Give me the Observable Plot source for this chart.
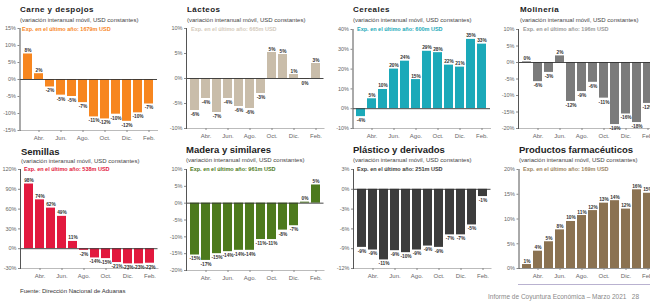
<!DOCTYPE html>
<html><head><meta charset="utf-8">
<script src="https://cdn.jsdelivr.net/npm/d3@7"></script>
<script src="https://cdn.jsdelivr.net/npm/@observablehq/plot@0.6"></script>
<style>
body{margin:0;background:#fff;overflow:hidden;}
#root{position:relative;width:650px;height:303px;overflow:hidden;background:#fff;font-family:"Liberation Sans",Arial,sans-serif;}
.t{position:absolute;white-space:nowrap;line-height:1;}
.title1{font-weight:bold;font-size:8px;letter-spacing:0.45px;color:#222;}
.title2{font-weight:bold;font-size:9.5px;color:#222;}
.sub{font-size:6px;color:#444;}
.exp{font-weight:bold;font-size:5.5px;}
svg.plot-panel{position:absolute;}
</style></head><body><div id="root"></div>
<script>
// ---- data ----
const months = ["Mar.","Abr.","May.","Jun.","Jul.","Ago.","Sep.","Oct.","Nov.","Dic.","Ene.","Feb."];
const tickMonths = ["Abr.","Jun.","Ago.","Oct.","Dic.","Feb."];
const subtitle = "(variación interanual móvil, USD constantes)";

const titles = ["Carne y despojos","Lácteos","Cereales","Molinería","Semillas","Madera y similares","Plástico y derivados","Productos farmacéuticos"];
const expLabels = ["Exp. en el último año: 1679m USD","Exp. en el último año: 665m USD","Exp. en el último año: 600m USD","Exp. en el último año: 196m USD","Exp. en el último año: 538m USD","Exp. en el último año: 961m USD","Exp. en el último año: 251m USD","Exp. en el último año: 169m USD"];
const colors = ["#f7861f","#c9bdaa","#1ba9b9","#7b7b7b","#e2193e","#4d7a1d","#3c3c3c","#8b7251"];
const expColors = ["#f7861f","#d3c9bb","#1ba9b9","#9a9a9a","#e2193e","#4d7a1d","#3c3c3c","#9b8462"];

const carne     = [7.5, 1.7, -2.2, -4.6, -5.0, -6.8, -11.0, -11.6, -10.2, -12.3, -9.8, -7.2];
const lacteos   = [-6.4, -4.0, -6.8, -4.0, -5.6, -6.0, -3.0, 5.2, 4.8, 0.8, -0.2, 3.0];
const cereales  = [-4.0, 5.0, 9.7, 20.0, 24.0, 14.7, 29.0, 28.3, 22.0, 21.0, 35.0, 32.6];
const molineria = [0.2, -5.8, -3.0, 2.0, -11.8, -8.8, -6.0, -10.8, -18.8, -15.6, -18.2, -12.4];
const semillas  = [98.0, 74.0, 61.5, 49.0, 11.0, -2.5, -14.0, -15.0, -21.0, -23.0, -23.0, -22.0];
const madera    = [-15.4, -17.0, -15.0, -14.4, -14.0, -14.0, -10.8, -10.8, -8.0, -6.7, 0.3, 5.4];
const plastico  = [-8.8, -9.2, -10.7, -9.3, -9.6, -9.2, -8.6, -8.8, -6.9, -6.9, -5.4, -1.1];
const farma     = [0.8, 3.5, 5.4, 7.8, 9.5, 10.7, 11.7, 13.2, 13.7, 12.0, 15.9, 15.2];

const yDomains = [[-15,15],[-10,10],[-10,40],[-20,10],[-30,120],[-20,10],[-12,3],[0,20]];
const yTicks = [[-15,-10,-5,0,5,10,15],[-10,-5,0,5,10],[-10,0,10,20,30,40],[-20,-15,-10,-5,0,5,10],
                [-30,0,30,60,90,120],[-20,-15,-10,-5,0,5,10],[-12,-9,-6,-3,0,3],[0,5,10,15,20]];
const series = [carne, lacteos, cereales, molineria, semillas, madera, plastico, farma];

// ---- layout ----
const boxes = [
  {left:0,   top:0,   w:162, h:145, x0:19.5, x1:157,   y0:130, y1:28,  tx:20,  ty:6,   sy:17, ey:27, ex:22,  row:1},
  {left:162, top:0,   w:163, h:145, x0:24,   x1:161.5, y0:128, y1:28,  tx:187, ty:6,   sy:17, ey:27, ex:191, row:1},
  {left:325, top:0,   w:165, h:145, x0:27.5, x1:165,   y0:128, y1:29,  tx:353, ty:6,   sy:17, ey:27, ex:357, row:1},
  {left:490, top:0,   w:170, h:145, x0:28,   x1:165.5, y0:128, y1:29,  tx:520, ty:6,   sy:17, ey:27, ex:523, row:1},
  {left:0,   top:140, w:162, h:145, x0:20,   x1:157.5, y0:128, y1:29,  tx:21,  ty:147, sy:158, ey:167, ex:24, row:2},
  {left:162, top:140, w:163, h:145, x0:24,   x1:161.5, y0:130, y1:29,  tx:186, ty:145, sy:157, ey:167, ex:190, row:2},
  {left:325, top:140, w:165, h:145, x0:28,   x1:165.5, y0:128, y1:29,  tx:353, ty:145, sy:157, ey:167, ex:357, row:2},
  {left:490, top:140, w:170, h:145, x0:28.5, x1:166,   y0:128, y1:29,  tx:519, ty:145, sy:157, ey:167, ex:523, row:2}
];

const root = document.getElementById("root");
function addText(cls, txt, x, y, color){
  const d = document.createElement("div");
  d.className = "t " + cls;
  d.textContent = txt;
  d.style.left = x + "px"; d.style.top = y + "px";
  if (color) d.style.color = color;
  root.appendChild(d);
}

const fmt = v => Math.round(v) + "%";

series.forEach((vals, i) => {
  const b = boxes[i];
  const data = months.map((m, k) => ({m, v: vals[k]}));
  const svg = Plot.plot({
    width: b.w, height: b.h,
    marginLeft: b.x0, marginRight: b.w - b.x1, marginTop: b.y1, marginBottom: b.h - b.y0,
    style: {background: "transparent", overflow: "visible", fontFamily: "Liberation Sans, Arial, sans-serif"},
    x: {domain: months, paddingInner: 0.17, paddingOuter: 0.08, axis: null},
    y: {domain: yDomains[i], axis: null},
    marks: [
      Plot.barY(data, {x: "m", y: "v", fill: colors[i]}),
      Plot.ruleY([0], {stroke: "#333", strokeWidth: 0.9}),
      Plot.frame({anchor: "bottom", stroke: "#aaa", strokeWidth: 0.8}),
      Plot.frame({anchor: "left", stroke: "#555", strokeWidth: 1}),
      Plot.axisY({ticks: yTicks[i], tickFormat: d => d + "%", tickSize: 2, tickPadding: 2, fontSize: 5.5, color: "#666", stroke: "#888", label: null}),
      Plot.axisX({ticks: tickMonths, tickSize: 2, tickPadding: 3, fontSize: 6, color: "#666", stroke: "#888", label: null}),
      Plot.text(data.filter(d => d.v >= 0), {x: "m", y: "v", text: d => fmt(d.v), dy: -2, lineAnchor: "bottom", fontSize: 4.8, fontWeight: "bold", fill: "#333"}),
      Plot.text(data.filter(d => d.v < 0), {x: "m", y: "v", text: d => fmt(d.v), dy: 2, lineAnchor: "top", fontSize: 4.8, fontWeight: "bold", fill: "#333"})
    ]
  });
  svg.classList.add("plot-panel");
  svg.style.left = b.left + "px";
  svg.style.top = b.top + "px";
  svg.style.maxWidth = "none";
  root.appendChild(svg);
  addText(b.row === 1 ? "title1" : "title2", titles[i], b.tx, b.ty);
  addText("sub", subtitle, b.tx, b.sy);
  addText("exp", expLabels[i], b.ex, b.ey, expColors[i]);
});

addText("sub", "Fuente: Dirección Nacional de Aduanas", 20, 288, "#333");
const line = document.createElement("div");
line.style.cssText = "position:absolute;left:518px;top:284px;width:140px;height:1px;background:#b9b2d0;";
root.appendChild(line);
const inf = document.createElement("div");
inf.className = "t";
inf.style.cssText += "left:488px;top:294px;font-size:6.5px;color:#888;";
inf.textContent = "Informe de Coyuntura Económica – Marzo 2021   28";
inf.style.whiteSpace = "pre";
root.appendChild(inf);
</script></body></html>
